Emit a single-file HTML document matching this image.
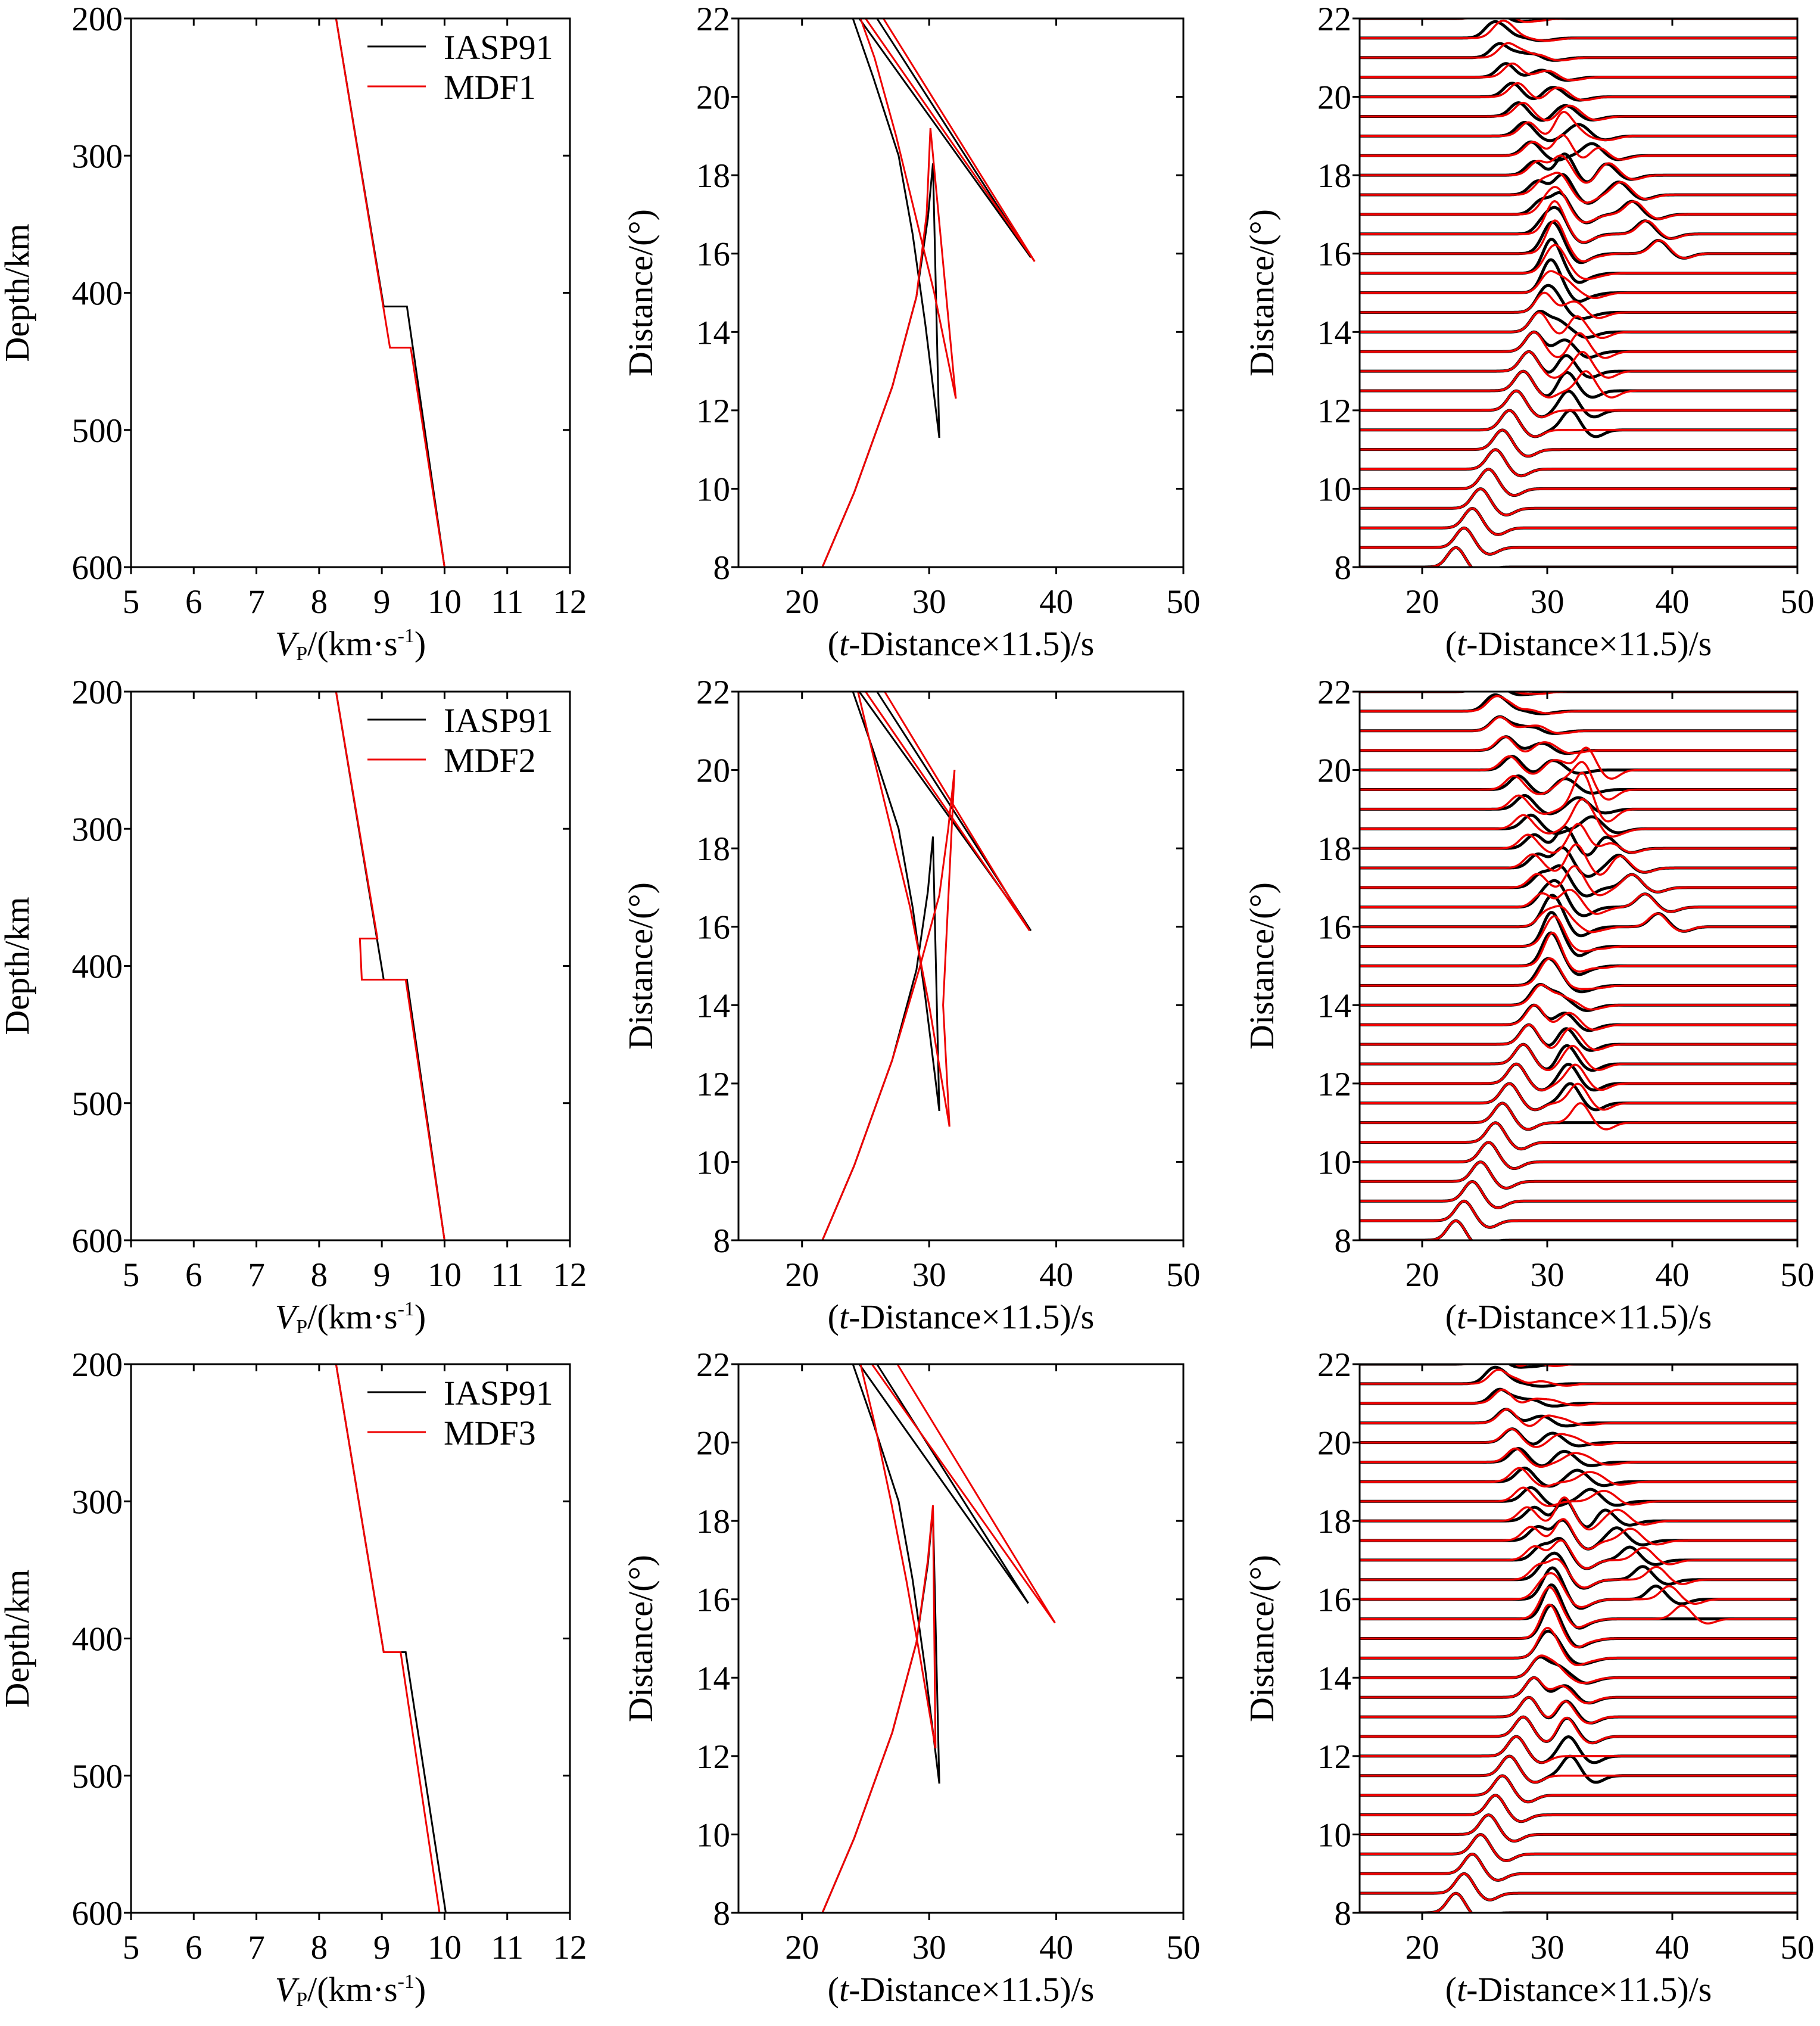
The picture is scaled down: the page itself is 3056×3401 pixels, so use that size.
<!DOCTYPE html>
<html><head><meta charset="utf-8">
<style>
html,body{margin:0;padding:0;background:#fff;}
svg{display:block;font-family:"Liberation Serif",serif;}
</style></head>
<body>
<svg id="fig" width="3056" height="3401" viewBox="0 0 3056 3401" xmlns="http://www.w3.org/2000/svg"></svg>
<script>
// ---------- data ----------
const rowNames = ["MDF1","MDF2","MDF3"];
const depthTicks = [200,300,400,500,600];
const vTicks = [5,6,7,8,9,10,11,12];
const timeTicks = [20,30,40,50];
const distTicks = [8,10,12,14,16,18,20,22];
const traceDists = [8,8.5,9,9.5,10,10.5,11,11.5,12,12.5,13,13.5,14,14.5,15,15.5,16,16.5,17,17.5,18,18.5,19,19.5,20,20.5,21,21.5,22];

// velocity profiles (depth km, Vp km/s)
const iaspDepth = [200,410,410,600];
const iaspVel   = [8.27,9.03,9.40,10.0];
const mdf1Depth = [200,440,440,600];
const mdf1Vel   = [8.27,9.13,9.46,10.0];
const mdf2Depth = [200,380,380,410,410,600];
const mdf2Vel   = [8.27,8.93,8.65,8.68,9.38,10.0];
const mdf3Depth = [200,410,410,600];
const mdf3Vel   = [8.27,9.03,9.30,9.92];
const iasp3Vel  = [8.27,9.03,9.38,10.02];

// travel-time branches: reduced time (s) and distance (deg)
const blkA_t=[21.6,24.1,27.1,29.0,29.9,30.3], blkA_d=[8,9.9,12.6,14.9,16.9,18.3];
const blkB_t=[30.3,30.8], blkB_d=[18.3,11.3];
const blkC_t=[30.8,29.7,28.7,27.6,25.6,24.0], blkC_d=[11.3,14.2,16.5,18.5,20.5,22];
const blkD_t=[24.5,38.0], blkD_d=[22,15.9];
const blkE_t=[38.0,25.9], blkE_d=[15.9,22];

const r1A_t=[21.6,24.1,27.1,29.0,29.8,30.1], r1A_d=[8,9.9,12.6,14.9,17,19.2];
const r1B_t=[30.1,32.1], r1B_d=[19.2,12.3];
const r1C_t=[32.1,30.4,28.9,27.4,25.7,24.6], r1C_d=[12.3,15,17,19,21,22];
const r1D_t=[25.0,38.3], r1D_d=[22,15.8];
const r1E_t=[38.3,26.4], r1E_d=[15.8,22];

const r2A_t=[21.6,24.1,27.1,29.2,30.8,31.5,32.0], r2A_d=[8,9.9,12.6,14.9,16.8,18.5,20];
const r2B_t=[32.0,31.1,31.6], r2B_d=[20,14,10.9];
const r2C_t=[31.6,30.0,28.5,27.0,25.5,24.4], r2C_d=[10.9,14,16.5,18.5,20.5,22];
const r2D_t=[25.0,37.9], r2D_d=[22,15.9];
const r2E_t=[37.9,26.5], r2E_d=[15.9,22];

const r3A_t=[21.6,24.1,27.1,29.0,29.9,30.3], r3A_d=[8,9.9,12.6,14.9,17,18.4];
const r3B_t=[30.3,30.5], r3B_d=[18.4,12.2];
const r3C_t=[30.5,29.3,28.2,27.0,25.7,24.6], r3C_d=[12.2,14.5,16.5,18.5,20.5,22];
const r3D_t=[25.5,39.9], r3D_d=[22,15.4];
const r3E_t=[39.9,27.5], r3E_d=[15.4,22];
const b3D_t=[24.5,37.8], b3D_d=[22,15.9];
const b3E_t=[37.8,25.9], b3E_d=[15.9,22];

// ---------- layout ----------
const NS="http://www.w3.org/2000/svg";
const svg=document.getElementById('fig');
const colX=[[220,957],[1240,1987],[2283,3018]];
const rowY=[[31,952],[1161,2082],[2290,3211]];
function el(tag,attrs,parent){const e=document.createElementNS(NS,tag);for(const k in attrs)e.setAttribute(k,attrs[k]);(parent||svg).appendChild(e);return e;}
function lin(d0,d1,r0,r1){return v=>r0+(v-d0)/(d1-d0)*(r1-r0);}
function pathFrom(xs,ys,sx,sy){return xs.map((v,i)=>(i?'L':'M')+sx(v).toFixed(1)+','+sy(ys[i]).toFixed(1)).join(' ');}

function axes(g,x0,x1,y0,y1,sx,sy,xt,yt,name){
  const fr=el('rect',{x:x0,y:y0,width:x1-x0,height:y1-y0,fill:'none',stroke:'#000','stroke-width':3},g);
  
  
  xt.forEach(v=>{
    const x=sx(v);
    el('line',{x1:x,y1:y1,x2:x,y2:y1+12,stroke:'#000','stroke-width':3},g);
    el('line',{x1:x,y1:y0,x2:x,y2:y0+12,stroke:'#000','stroke-width':3},g);
    const t=el('text',{x:x,y:y1+77,'font-size':57,'text-anchor':'middle'},g);t.textContent=v;
    
    
  });
  yt.forEach(v=>{
    const y=sy(v);
    el('line',{x1:x0-12,y1:y,x2:x0,y2:y,stroke:'#000','stroke-width':3},g);
    el('line',{x1:x1-12,y1:y,x2:x1,y2:y,stroke:'#000','stroke-width':3},g);
    const t=el('text',{x:x0-14,y:y+20,'font-size':57,'text-anchor':'end'},g);t.textContent=v;
    
    
  });
}
function xTitleT(g,cx,y){
  const t=el('text',{x:cx,y:y,'font-size':58,'text-anchor':'middle'},g);
  
  
  t.innerHTML='(<tspan font-style="italic">t</tspan>-Distance×11.5)/s';
}
function yTitle(g,x,cy,txt){
  const t=el('text',{x:x,y:cy,'font-size':58,'text-anchor':'middle',transform:`rotate(-90 ${x} ${cy})`},g);
  t.textContent=txt;
  
  
}

const velModels=[[iaspDepth,iaspVel,mdf1Depth,mdf1Vel],[iaspDepth,iaspVel,mdf2Depth,mdf2Vel],[iaspDepth,iasp3Vel,mdf3Depth,mdf3Vel]];
const blackBranches=[
 [[blkA_t,blkA_d],[blkB_t,blkB_d],[blkC_t,blkC_d],[blkD_t,blkD_d],[blkE_t,blkE_d]],
 [[blkA_t,blkA_d],[blkB_t,blkB_d],[blkC_t,blkC_d],[blkD_t,blkD_d],[blkE_t,blkE_d]],
 [[blkA_t,blkA_d],[blkB_t,blkB_d],[blkC_t,blkC_d],[b3D_t,b3D_d],[b3E_t,b3E_d]]];
const redBranches=[
 [[r1A_t,r1A_d],[r1B_t,r1B_d],[r1C_t,r1C_d],[r1D_t,r1D_d],[r1E_t,r1E_d]],
 [[r2A_t,r2A_d],[r2B_t,r2B_d],[r2C_t,r2C_d],[r2D_t,r2D_d],[r2E_t,r2E_d]],
 [[r3A_t,r3A_d],[r3B_t,r3B_d],[r3C_t,r3C_d],[r3D_t,r3D_d],[r3E_t,r3E_d]]];
const branchAmp=[0.5,0.15,0.35,0.2,0.14];

function arrivals(branches,d){
  const out=[];
  branches.forEach((b,bi)=>{
    const ts=b[0],ds=b[1];
    for(let i=0;i<ds.length-1;i++){
      const a=ds[i],c=ds[i+1];
      if((d>=Math.min(a,c))&&(d<=Math.max(a,c))&&a!==c){
        out.push([ts[i]+(d-a)/(c-a)*(ts[i+1]-ts[i]),branchAmp[bi]]);break;
      }
    }
  });
  return out;
}
function wave(t,arr){
  let s=0;
  arr.forEach(([t0,a])=>{
    const u=t-t0-1.1;
    s+=a*Math.exp(-(u*u)/0.9)-0.35*a*Math.exp(-((u-2.0)*(u-2.0))/0.9);
  });
  return s;
}

for(let r=0;r<3;r++){
  const [y0,y1]=rowY[r];
  // ---- panel 1: velocity ----
  {
    const [x0,x1]=colX[0];
    const g=el('g',{});
    
    
    const sx=lin(5,12,x0,x1), sy=lin(200,600,y0,y1);
    const m=velModels[r];
    const pb=el('path',{d:pathFrom(m[1],m[0],sx,sy),fill:'none',stroke:'#000','stroke-width':3},g);
    
    
    const pr=el('path',{d:pathFrom(m[3],m[2],sx,sy),fill:'none',stroke:'#e00','stroke-width':3},g);
    
    
    axes(g,x0,x1,y0,y1,sx,sy,vTicks,depthTicks,'velocity');
    yTitle(g,48,(y0+y1)/2,'Depth/km');
    const xt=el('text',{x:(x0+x1)/2,y:y1+148,'font-size':58,'text-anchor':'middle'},g);
    
    
    xt.innerHTML='<tspan font-style="italic">V</tspan><tspan font-size="34" dy="8">P</tspan><tspan dy="-8">/(km·s</tspan><tspan font-size="34" dy="-22">-1</tspan><tspan dy="22">)</tspan>';
    // legend
    const lg=el('g',{},g);
    
    
    [['IASP91','#000',78],[rowNames[r],'#e00',145]].forEach(([lab,col,yy])=>{
      el('line',{x1:617,y1:y0+yy-31,x2:715,y2:y0+yy-31,stroke:col,'stroke-width':3},lg);
      const t=el('text',{x:745,y:y0+yy-10,'font-size':58},lg);t.textContent=lab;
      
      
    });
  }
  // ---- panel 2: travel time ----
  {
    const [x0,x1]=colX[1];
    const g=el('g',{});
    
    
    const sx=lin(15,50,x0,x1), sy=lin(8,22,y1,y0);
    blackBranches[r].forEach(b=>{
      const p=el('path',{d:pathFrom(b[0],b[1],sx,sy),fill:'none',stroke:'#000','stroke-width':3},g);
      
      
    });
    redBranches[r].forEach(b=>{
      const p=el('path',{d:pathFrom(b[0],b[1],sx,sy),fill:'none',stroke:'#e00','stroke-width':3},g);
      
      
    });
    axes(g,x0,x1,y0,y1,sx,sy,timeTicks,distTicks,'traveltime');
    yTitle(g,1095,(y0+y1)/2,'Distance/(°)');
    xTitleT(g,(x0+x1)/2,y1+148);
  }
  // ---- panel 3: seismograms ----
  {
    const [x0,x1]=colX[2];
    const g=el('g',{});
    
    
    const sx=lin(15,50,x0,x1), sy=lin(8,22,y1,y0);
    const cp=el('clipPath',{id:'clip'+r},g);
    el('rect',{x:x0,y:y0,width:x1-x0,height:y1-y0},cp);
    const tg=el('g',{'clip-path':`url(#clip${r})`},g);
    [[blackBranches[r],'#000',5],[redBranches[r],'#e00',3.5]].forEach(([br,col,w])=>{
      traceDists.forEach(d=>{
        const arr=arrivals(br,d);
        let p='';
        for(let t=15;t<=50.001;t+=0.1){
          p+=(t===15?'M':'L')+sx(t).toFixed(1)+','+sy(d+wave(t,arr)).toFixed(1)+' ';
        }
        const tr=el('path',{d:p,fill:'none',stroke:col,'stroke-width':w},tg);
        
        
      });
    });
    axes(g,x0,x1,y0,y1,sx,sy,timeTicks,distTicks,'seismogram');
    yTitle(g,2138,(y0+y1)/2,'Distance/(°)');
    xTitleT(g,(x0+x1)/2,y1+148);
  }
}
</script>
</body></html>
